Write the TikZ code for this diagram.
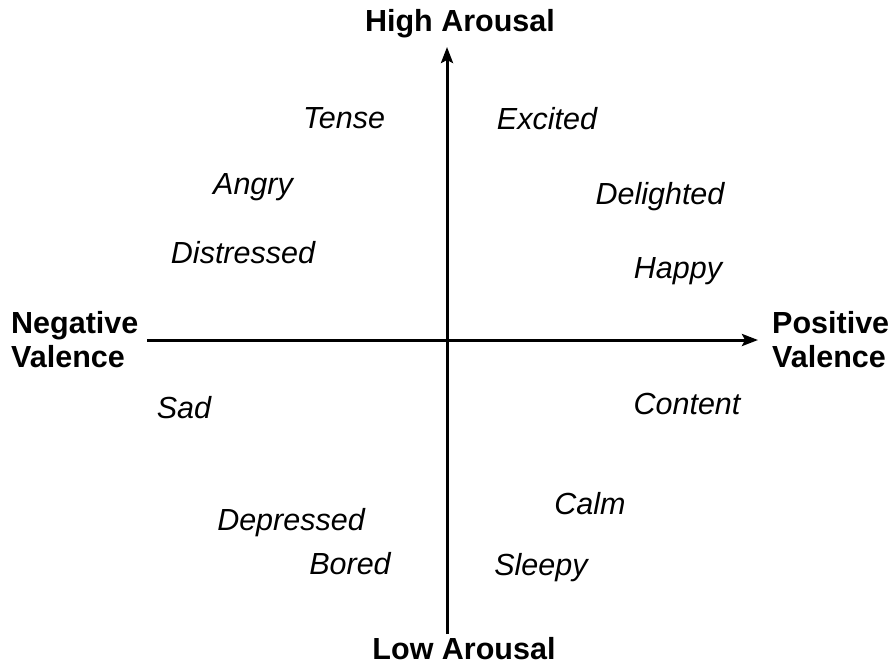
\documentclass[tikz,border=0pt]{standalone}
\usepackage{fontspec}
\setmainfont{Liberation Sans}
\usetikzlibrary{arrows.meta}
\begin{document}
\begin{tikzpicture}[x=1pt,y=-1pt,
  emo/.style={font=\fontsize{30.5}{34}\selectfont\itshape, anchor=base, inner sep=0pt},
  axlabel/.style={font=\fontsize{30.5}{34}\selectfont\bfseries, anchor=base, inner sep=0pt},
  sidelabel/.style={font=\fontsize{30.5}{34}\selectfont\bfseries, align=left, inner sep=0pt},
  axis/.style={line width=3pt, -{Stealth[length=16pt,width=12pt,inset=3pt]}}]
\useasboundingbox (0,0) rectangle (890,665);
\coordinate (xl) at (147,340);
\coordinate (xr) at (758,340);
\coordinate (yb) at (447,634);
\coordinate (yt) at (447,47);
\draw[axis] (xl) -- (xr);
\draw[axis] (yb) -- (yt);
\node[axlabel] (high) at (460,31) {High Arousal};
\node[axlabel] (low) at (464,659) {Low Arousal};
\node[sidelabel, anchor=west] (neg) at (11,340) {Negative\\Valence};
\node[sidelabel, anchor=west] (pos) at (772,340) {Positive\\Valence};
\node[emo] (tense) at (344,128) {Tense};
\node[emo] (excited) at (547,129) {Excited};
\node[emo] (angry) at (253,194) {Angry};
\node[emo] (delighted) at (660,204) {Delighted};
\node[emo] (distressed) at (243,263) {Distressed};
\node[emo] (happy) at (678,278) {Happy};
\node[emo] (sad) at (184,418) {Sad};
\node[emo] (content) at (687,414) {Content};
\node[emo] (calm) at (590,514) {Calm};
\node[emo] (depressed) at (291,530) {Depressed};
\node[emo] (bored) at (350,574) {Bored};
\node[emo] (sleepy) at (541,575) {Sleepy};
\end{tikzpicture}
\end{document}
